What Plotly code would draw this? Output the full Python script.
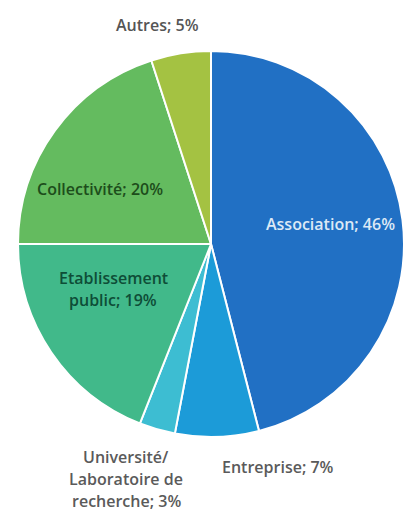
import plotly.graph_objects as go

# Répartition des structures (en %)
categories = ["Association", "Entreprise", "Université/ Laboratoire de recherche",
              "Etablissement public", "Collectivité", "Autres"]
values = [46, 7, 3, 19, 20, 5]

colors = ["#2170c4", "#1c9bd8", "#3dbdd2", "#41b98a", "#64bb5f", "#a4c242"]

# Label text layout (line breaks) and placement in pixels (centre x, first line y)
label_lines = [
    ["Association; {v}%"],
    ["Entreprise; {v}%"],
    ["Université/", "Laboratoire de", "recherche; {v}%"],
    ["Etablissement", "public; {v}%"],
    ["Collectivité; {v}%"],
    ["Autres; {v}%"],
]
label_pos = [(330, 224), (278, 467), (126, 457), (113, 278), (100, 189), (157, 25)]
label_color = ["#dce9f6", "#5a5a5a", "#5a5a5a", "#0e4d37", "#1d4d1b", "#555555"]
line_step = 22

W, H = 404, 511
cx, cy, r = 211, 244, 193

fig = go.Figure(go.Pie(
    labels=categories,
    values=values,
    sort=False,
    direction="clockwise",
    rotation=0,
    marker=dict(colors=colors, line=dict(color="white", width=2)),
    textinfo="none",
    hoverinfo="label+percent",
    showlegend=False,
    domain=dict(x=[(cx - r) / W, min(1, (cx + r) / W)],
                y=[(H - cy - r) / H, (H - cy + r) / H]),
))

for lines, v, (x, y), c in zip(label_lines, values, label_pos, label_color):
    for i, line in enumerate(lines):
        fig.add_annotation(
            x=x / W, y=1 - (y + i * line_step) / H, xref="paper", yref="paper",
            text=line.format(v=v), showarrow=False,
            font=dict(family="Open Sans", size=16, color=c, weight=600),
            xanchor="center", yanchor="middle",
        )

fig.update_layout(
    width=W, height=H,
    margin=dict(l=0, r=0, t=0, b=0),
    paper_bgcolor="white",
    plot_bgcolor="white",
)

fig.write_html("out.html")
